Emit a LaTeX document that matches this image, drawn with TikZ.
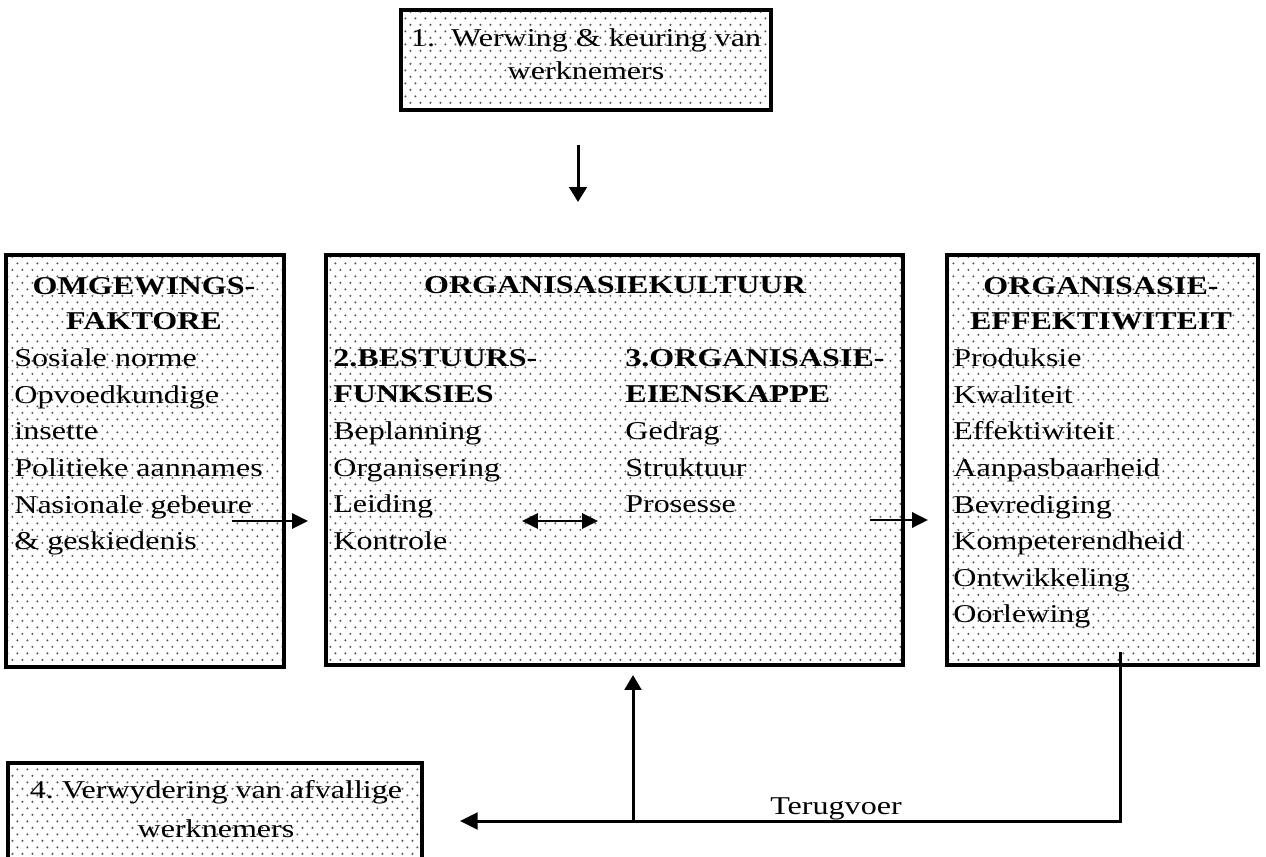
\documentclass[tikz,border=0pt]{standalone}
\usepackage{fontspec}
\setmainfont{Liberation Serif}[FakeStretch=1.25]
\usetikzlibrary{arrows.meta,patterns.meta,fit}

% staggered halftone stipple used as the box fill
\tikzdeclarepattern{
  name=stipple,
  type=uncolored,
  bounding box={(0pt,0pt) and (5.67pt,7.37pt)},
  tile size={(5.67pt,7.37pt)},
  code={
    \fill (1.4pt,1.8pt) circle (0.65pt);
    \fill (4.235pt,5.485pt) circle (0.65pt);
  }
}

\begin{document}
\begin{tikzpicture}[x=0.02cm,y=-0.02cm,
  panel/.style={draw, line width=2.2pt, pattern=stipple, pattern color=black!65, inner sep=0pt},
  txt/.style={inner sep=0pt, font=\fontsize{14.6}{20.8}\selectfont},
  item/.style={txt, anchor=base west},
  mid/.style={txt, anchor=base},
  head/.style={mid, font=\fontsize{14.6}{20.8}\selectfont\bfseries},
  headl/.style={item, font=\fontsize{14.6}{20.8}\selectfont\bfseries},
  conn/.style={line width=1.7pt},
  tip/.style={-{Triangle[length=9pt,width=8.5pt]}},
]
\useasboundingbox (0,0) rectangle (1266,857);

% ---- boxes ----
\node[panel, fit={(401,10) (771,110)}] (werwing) {};
\node[panel, fit={(6,255) (284,667)}] (omgewing) {};
\node[panel, fit={(326,255) (903,665)}] (kultuur) {};
\node[panel, fit={(947,255) (1258,665)}] (effek) {};
\node[panel, fit={(8,763) (422,880)}] (verwyder) {};

% ---- box 1 ----
\node[mid] (w1) at (586,47) {1.\ \ Werwing \& keuring van};
\node[mid] (w2) at (586,80) {werknemers};

% ---- environmental factors ----
\node[head] (omgA) at (144,295) {OMGEWINGS-};
\node[head] (omgB) at (144,330) {FAKTORE};
\foreach \t [count=\i] in {Sosiale norme, Opvoedkundige, insette, Politieke aannames, Nasionale gebeure, \& geskiedenis}
  \node[item] (omg\i) at (14,{330+36.6*\i}) {\t};

% ---- organisational culture ----
\node[head] (kult) at (615,294) {ORGANISASIEKULTUUR};
\node[headl] (bestA) at (333,367) {2.BESTUURS-};
\node[headl] (bestB) at (333,403) {FUNKSIES};
\foreach \t [count=\i] in {Beplanning, Organisering, Leiding, Kontrole}
  \node[item] (best\i) at (333,{403+36.6*\i}) {\t};
\node[headl] (eienA) at (625,367) {3.ORGANISASIE-};
\node[headl] (eienB) at (625,403) {EIENSKAPPE};
\foreach \t [count=\i] in {Gedrag, Struktuur, Prosesse}
  \node[item] (eien\i) at (625,{403+36.6*\i}) {\t};

% ---- organisational effectiveness ----
\node[head] (effA) at (1101,295) {ORGANISASIE-};
\node[head] (effB) at (1101,330) {EFFEKTIWITEIT};
\foreach \t [count=\i] in {Produksie, Kwaliteit, Effektiwiteit, Aanpasbaarheid, Bevrediging, Kompeterendheid, Ontwikkeling, Oorlewing}
  \node[item] (eff\i) at (953,{330+36.6*\i}) {\t};

% ---- box 4 ----
\node[mid] (v1) at (216,798) {4.\ Verwydering van afvallige};
\node[mid] (v2) at (216,837) {werknemers};

\node[mid] (terug) at (836,814) {Terugvoer};

% ---- connectors ----
\coordinate (dnA) at (578,145);
\coordinate (dnB) at (578,202);
\draw[conn, -{Triangle[length=8.5pt,width=10pt]}] (dnA) -- (dnB);

\coordinate (inA) at (232,521);
\coordinate (inB) at (308,521);
\draw[conn, tip] (inA) -- (inB);

\coordinate (dbA) at (522,521);
\coordinate (dbB) at (598,521);
\draw[conn, {Triangle[length=9pt,width=8.5pt]}-{Triangle[length=9pt,width=8.5pt]}] (dbA) -- (dbB);

\coordinate (outA) at (870,520);
\coordinate (outB) at (928,520);
\draw[conn, tip] (outA) -- (outB);

\coordinate (fbTop) at (1120,652);
\coordinate (fbCorner) at (1120,821);
\coordinate (fbEnd) at (460,821);
\coordinate (fbJoin) at (633,821);
\coordinate (fbUp) at (633,675);
\draw[conn, -{Triangle[length=10pt,width=9.5pt]}] (fbTop) -- (fbCorner) -- (fbEnd);
\draw[conn, -{Triangle[length=8.5pt,width=9.5pt]}] (fbJoin) -- (fbUp);
\end{tikzpicture}
\end{document}
